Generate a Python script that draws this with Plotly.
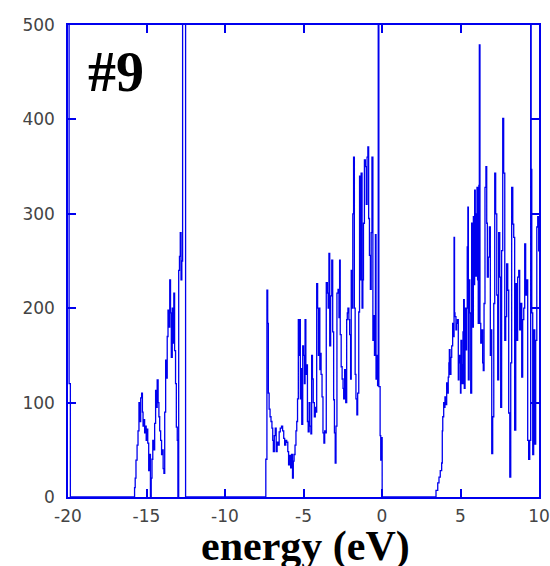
import plotly.graph_objects as go

# ---- data (energy in eV, DOS in states/eV) ----
seg0_E = [-20.0, -19.93, -19.85]
seg0_D = [1500, 120, 0]

segA_E = [-15.80, -15.76, -15.72, -15.67, -15.60, -15.54, -15.48, -15.42, -15.37, -15.31,
          -15.26, -15.22, -15.17, -15.12, -15.06, -15.02, -14.97, -14.92, -14.86, -14.80,
          -14.75, -14.70, -14.65, -14.60, -14.54, -14.48, -14.42, -14.37, -14.32, -14.26,
          -14.21, -14.16, -14.10, -14.04, -13.99, -13.94, -13.89, -13.84, -13.78, -13.73,
          -13.68, -13.63, -13.57, -13.52, -13.47, -13.42, -13.36, -13.31, -13.26, -13.21,
          -13.15, -13.10, -13.04, -13.00, -12.95, -12.90, -12.85, -12.80, -12.75, -12.70,
          -12.65, -12.60, -12.55, -12.51]
segA_D = [0, 10, 20, 39, 55, 70, 100, 80, 105, 110,
          90, 75, 82, 68, 75, 60, 72, 57, 28, 45,
          0, 20, 40, 60, 50, 78, 113, 95, 124, 100,
          85, 70, 60, 45, 50, 30, 25, 90, 145, 126,
          170, 198, 180, 230, 195, 148, 200, 163, 216, 155,
          120, 74, 60, 0, 240, 255, 280, 230, 250, 1200,
          900, 1500, 800, 0]

segB_E = [-7.45, -7.40, -7.33, -7.28, -7.24, -7.19, -7.13, -7.07, -7.01, -6.96,
          -6.92, -6.86, -6.80, -6.74, -6.68, -6.61, -6.55, -6.48, -6.40, -6.33,
          -6.26, -6.20, -6.13, -6.07, -6.00, -5.95, -5.88, -5.82, -5.76, -5.70,
          -5.65, -5.60, -5.54, -5.48, -5.43, -5.38, -5.33, -5.28, -5.24, -5.20,
          -5.16, -5.11, -5.05, -5.00, -4.94, -4.90, -4.85, -4.80, -4.75, -4.70,
          -4.64, -4.59, -4.53, -4.48, -4.43, -4.38, -4.31, -4.25, -4.22, -4.16,
          -4.10, -4.05, -4.01, -3.96, -3.92, -3.88, -3.82, -3.76, -3.70, -3.65,
          -3.60, -3.55, -3.48, -3.43, -3.38, -3.33, -3.27, -3.20, -3.14, -3.08,
          -3.03, -2.98, -2.93, -2.87, -2.80, -2.74, -2.70, -2.66, -2.60, -2.54,
          -2.48, -2.44, -2.38, -2.31, -2.25, -2.21, -2.17, -2.11, -2.06, -2.00,
          -1.96, -1.91, -1.86, -1.81, -1.76, -1.71, -1.66, -1.60, -1.55, -1.48,
          -1.43, -1.38, -1.33, -1.27, -1.22, -1.18, -1.12, -1.06, -1.00, -0.95,
          -0.90, -0.85, -0.80, -0.74, -0.69, -0.64, -0.58, -0.53, -0.48, -0.42,
          -0.38, -0.33, -0.28, -0.24, -0.20, -0.12, -0.08, -0.04, 0.01]
segB_D = [0, 40, 219, 184, 110, 93, 85, 80, 73, 60,
          48, 65, 73, 48, 58, 55, 69, 73, 75, 70,
          62, 55, 60, 58, 48, 34, 44, 31, 45, 20,
          38, 45, 55, 70, 80, 104, 188, 150, 188, 104,
          136, 77, 160, 150, 120, 188, 130, 140, 80, 69,
          100, 75, 67, 150, 125, 100, 85, 95, 90, 226,
          200, 150, 200, 135, 152, 130, 106, 68, 57, 70,
          68, 227, 216, 200, 258, 160, 213, 251, 175, 103,
          68, 36, 75, 216, 220, 190, 251, 172, 138, 125,
          115, 104, 135, 100, 188, 195, 200, 188, 172, 125,
          240, 200, 300, 360, 200, 130, 104, 87, 110, 196,
          340, 230, 343, 200, 230, 290, 357, 350, 310, 360,
          371, 295, 256, 220, 280, 360, 166, 192, 150, 278,
          125, 150, 118, 1500, 117, 65, 39, 63, 0]

segC_E = [3.40, 3.44, 3.55, 3.63, 3.71, 3.80, 3.84, 3.87, 3.93, 3.97,
          4.01, 4.06, 4.12, 4.17, 4.22, 4.26, 4.29, 4.33, 4.39, 4.44,
          4.50, 4.55, 4.59, 4.62, 4.65, 4.71, 4.75, 4.80, 4.86, 4.90,
          4.95, 5.00, 5.03, 5.07, 5.11, 5.16, 5.20, 5.24, 5.29, 5.35,
          5.39, 5.43, 5.47, 5.50, 5.55, 5.59, 5.65, 5.71, 5.76, 5.82,
          5.86, 5.90, 5.94, 5.97, 6.01, 6.05, 6.09, 6.13, 6.17, 6.20,
          6.24, 6.29, 6.35, 6.41, 6.45, 6.50, 6.56, 6.62, 6.67, 6.71,
          6.77, 6.84, 6.90, 6.93, 6.99, 7.05, 7.12, 7.18, 7.24, 7.31,
          7.37, 7.43, 7.50, 7.56, 7.62, 7.69, 7.75, 7.82, 7.88, 7.94,
          8.01, 8.07, 8.14, 8.20, 8.26, 8.33, 8.39, 8.45, 8.52, 8.58,
          8.64, 8.71, 8.77, 8.83, 8.90, 8.96, 9.03, 9.09, 9.15, 9.22,
          9.28, 9.34, 9.41, 9.47, 9.50, 9.54, 9.60, 9.66, 9.73, 9.79,
          9.86, 9.92, 9.98]
segC_D = [0, 7, 15, 21, 28, 36, 70, 85, 100, 95,
          106, 98, 121, 110, 127, 142, 156, 130, 148, 160,
          184, 170, 275, 195, 191, 177, 184, 188, 124, 150,
          142, 110, 166, 140, 120, 175, 209, 115, 200, 156,
          200, 265, 307, 124, 230, 195, 110, 290, 180, 297,
          225, 325, 260, 234, 300, 328, 230, 184, 330, 479,
          184, 163, 177, 142, 134, 205, 328, 350, 290, 233,
          254, 286, 150, 177, 46, 85, 205, 343, 300, 214,
          124, 280, 233, 95, 261, 401, 343, 166, 191, 247,
          219, 89, 21, 142, 328, 289, 275, 71, 226, 166,
          233, 240, 177, 205, 127, 188, 200, 268, 214, 230,
          60, 40, 60, 1500, 347, 195, 45, 177, 56, 166,
          286, 297, 260]

x_ticks = [-20, -15, -10, -5, 0, 5, 10]
y_ticks = [0, 100, 200, 300, 400, 500]

energy = seg0_E + segA_E + segB_E + segC_E
dos = seg0_D + segA_D + segB_D + segC_D

BLUE = "#0000ee"

fig = go.Figure()
fig.add_trace(go.Scatter(x=energy, y=dos, mode="lines",
                         line=dict(color=BLUE, width=1.3, shape="hv"),
                         showlegend=False))

axis_common = dict(showline=True, linecolor=BLUE, linewidth=1.5, mirror="ticks",
                   ticks="inside", ticklen=8, tickwidth=1.5, tickcolor=BLUE,
                   showgrid=False, zeroline=False, automargin=False,
                   tickfont=dict(family="DejaVu Sans", size=17, color="#444"))

fig.update_layout(
    width=550, height=566, autosize=False,
    margin=dict(l=68, r=11, t=25, b=69, pad=0, autoexpand=False),
    paper_bgcolor="white", plot_bgcolor="white",
    xaxis=dict(range=[-20, 10], tickvals=x_ticks, ticktext=[str(v) for v in x_ticks],
               ticklabelstandoff=3, **axis_common),
    yaxis=dict(range=[0, 500], tickvals=y_ticks, ticktext=[str(v) for v in y_ticks],
               ticklabelstandoff=8, **axis_common),
    annotations=[
        dict(text="<b>#9</b>", xref="paper", yref="paper", x=0.102, y=0.90,
             xanchor="center", yanchor="middle", showarrow=False,
             font=dict(family="Liberation Serif", size=56, color="black")),
        dict(text="<b>energy (eV)</b>", xref="paper", yref="paper", x=0.505, y=-0.105,
             xanchor="center", yanchor="middle", showarrow=False,
             font=dict(family="Liberation Serif", size=42, color="black")),
    ],
)

fig.write_html("out.html")
